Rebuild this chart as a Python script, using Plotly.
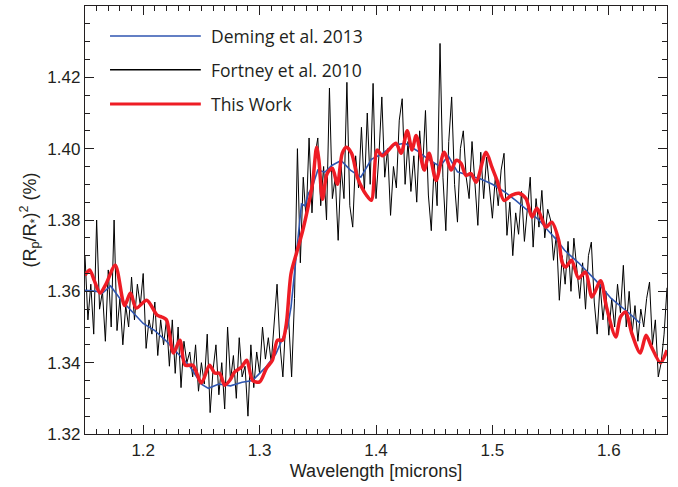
import numpy as np
import plotly.graph_objects as go

# Fortney et al. 2010 model, sampled every 0.0025 micron from 1.150 to 1.650
fortney_start, fortney_step = 1.150, 0.0025
fortney_depth = [
    1.370, 1.352, 1.362, 1.348, 1.380, 1.355, 1.360, 1.346, 1.366, 1.350,
    1.380, 1.349, 1.358, 1.345, 1.356, 1.350, 1.364, 1.352, 1.362, 1.356,
    1.365, 1.344, 1.352, 1.348, 1.357, 1.342, 1.352, 1.345, 1.352, 1.339,
    1.352, 1.337, 1.350, 1.333, 1.346, 1.340, 1.343, 1.336, 1.345, 1.332,
    1.340, 1.334, 1.348, 1.326, 1.338, 1.345, 1.331, 1.340, 1.327, 1.350,
    1.335, 1.342, 1.330, 1.347, 1.336, 1.339, 1.325, 1.345, 1.333, 1.343,
    1.337, 1.350, 1.341, 1.347, 1.340, 1.350, 1.362, 1.345, 1.336, 1.352,
    1.352, 1.336, 1.358, 1.400, 1.368, 1.392, 1.380, 1.403, 1.382, 1.398,
    1.403, 1.384, 1.395, 1.380, 1.417, 1.386, 1.392, 1.3743, 1.395, 1.386,
    1.4186, 1.384, 1.378, 1.398, 1.389, 1.406, 1.388, 1.410, 1.390, 1.4183,
    1.386, 1.398, 1.4145, 1.392, 1.400, 1.3813, 1.395, 1.389, 1.408, 1.414,
    1.390, 1.402, 1.388, 1.398, 1.385, 1.405, 1.394, 1.4107, 1.387, 1.377,
    1.396, 1.384, 1.4295, 1.392, 1.377, 1.402, 1.4145, 1.390, 1.3794, 1.400,
    1.405, 1.392, 1.386, 1.402, 1.390, 1.3785, 1.399, 1.386, 1.3976, 1.388,
    1.3805, 1.392, 1.384, 1.394, 1.3987, 1.3757, 1.385, 1.370, 1.382, 1.376,
    1.388, 1.374, 1.384, 1.392, 1.3724, 1.386, 1.378, 1.3883, 1.375, 1.383,
    1.380, 1.3687, 1.376, 1.3575, 1.370, 1.362, 1.374, 1.360, 1.3749, 1.366,
    1.358, 1.368, 1.355, 1.370, 1.3738, 1.357, 1.348, 1.362, 1.352, 1.360,
    1.3477, 1.358, 1.350, 1.362, 1.354, 1.3673, 1.350, 1.360, 1.348, 1.356,
    1.346, 1.355, 1.350, 1.358, 1.3626, 1.345, 1.352, 1.336, 1.340, 1.348,
    1.361,
]
fortney_wl = np.round(fortney_start + fortney_step * np.arange(len(fortney_depth)), 4)

# Deming et al. 2013
deming_wl = [
    1.150, 1.160, 1.165, 1.172, 1.180, 1.190, 1.200, 1.210, 1.220, 1.230,
    1.240, 1.250, 1.256, 1.265, 1.275, 1.285, 1.294, 1.300, 1.306, 1.314,
    1.320, 1.324, 1.327, 1.330, 1.333, 1.336, 1.339, 1.342, 1.345, 1.350,
    1.356, 1.362, 1.370, 1.378, 1.387, 1.396, 1.405, 1.415, 1.425, 1.435,
    1.445, 1.455, 1.462, 1.470, 1.480, 1.490, 1.500, 1.510, 1.520, 1.530,
    1.540, 1.548, 1.555, 1.562, 1.574, 1.589, 1.602, 1.617, 1.627,
]
deming_depth = [
    1.3603, 1.3600, 1.3595, 1.3615, 1.3580, 1.3545, 1.3510, 1.3490, 1.3460, 1.3425,
    1.3390, 1.3340, 1.3328, 1.3340, 1.3335, 1.3345, 1.3350, 1.3370, 1.3390, 1.3425,
    1.3470, 1.3500, 1.3556, 1.3650, 1.3760, 1.3845, 1.3840, 1.3875, 1.3890, 1.3940,
    1.3934, 1.3953, 1.3967, 1.3940, 1.3920, 1.3970, 1.3985, 1.4010, 1.4015, 1.3995,
    1.3970, 1.3950, 1.3980, 1.3935, 1.3925, 1.3915, 1.3900, 1.3880, 1.3855, 1.3827,
    1.3800, 1.3770, 1.3745, 1.3715, 1.3680, 1.3630, 1.3580, 1.3540, 1.3510,
]

# This Work
thiswork_wl = [
    1.150, 1.154, 1.158, 1.163, 1.168, 1.176, 1.184, 1.189, 1.194, 1.203,
    1.212, 1.216, 1.220, 1.226, 1.2315, 1.236, 1.2426, 1.250, 1.257, 1.2614,
    1.2657, 1.270, 1.2743, 1.2786, 1.2846, 1.289, 1.294, 1.300, 1.306, 1.311,
    1.3154, 1.3197, 1.323, 1.327, 1.3317, 1.337, 1.341, 1.3454, 1.349, 1.351,
    1.354, 1.358, 1.3625, 1.3668, 1.371, 1.3746, 1.379, 1.384, 1.388, 1.3917,
    1.396, 1.401, 1.4055, 1.417, 1.4216, 1.4268, 1.431, 1.4345, 1.4414, 1.4456,
    1.4516, 1.4585, 1.4645, 1.4688, 1.473, 1.4773, 1.4816, 1.486, 1.4945, 1.4996,
    1.504, 1.510, 1.5167, 1.5228, 1.5288, 1.534, 1.5383, 1.546, 1.551, 1.557,
    1.560, 1.563, 1.568, 1.574, 1.580, 1.5856, 1.593, 1.598, 1.606, 1.610,
    1.6145, 1.6197, 1.627, 1.632, 1.6367, 1.6444, 1.650,
]
thiswork_depth = [
    1.3645, 1.3660, 1.3630, 1.3595, 1.3620, 1.3673, 1.3560, 1.3595, 1.3553, 1.3575,
    1.3533, 1.3528, 1.3520, 1.3427, 1.3463, 1.3393, 1.3393, 1.3343, 1.3393, 1.3371,
    1.3370, 1.3337, 1.3350, 1.3374, 1.3388, 1.3407, 1.3350, 1.3346, 1.3385, 1.3407,
    1.3463, 1.3463, 1.3510, 1.3650, 1.3707, 1.3770, 1.3827, 1.3900, 1.4004, 1.3967,
    1.3858, 1.3930, 1.3945, 1.3900, 1.3987, 1.4004, 1.3987, 1.3920, 1.3890, 1.3870,
    1.3855, 1.3996, 1.3980, 1.4015, 1.3987, 1.4050, 1.3996, 1.4037, 1.3940, 1.3987,
    1.3911, 1.3990, 1.3940, 1.3967, 1.3959, 1.3925, 1.3930, 1.3906, 1.3990, 1.3948,
    1.3911, 1.3855, 1.3870, 1.3875, 1.3860, 1.3808, 1.3833, 1.3780, 1.3794, 1.3743,
    1.3680, 1.3668, 1.3687, 1.3637, 1.3654, 1.3584, 1.3630, 1.3556, 1.3472, 1.3528,
    1.3542, 1.3483, 1.3427, 1.3477, 1.3444, 1.3400, 1.3435,
]

BLUE = "#2f55b0"
BLACK = "#000000"
RED = "#ee1c25"

legend_labels = ["Deming et al. 2013", "Fortney et al. 2010", "This Work"]
legend_colors = [BLUE, BLACK, RED]
legend_widths = [1.6, 1.6, 3.2]

fig = go.Figure()
fig.add_trace(go.Scatter(x=fortney_wl, y=fortney_depth, mode="lines",
                         line=dict(color=BLACK, width=1.0), name=legend_labels[1]))
fig.add_trace(go.Scatter(x=deming_wl, y=deming_depth, mode="lines",
                         line=dict(color=BLUE, width=1.6), name=legend_labels[0]))
fig.add_trace(go.Scatter(x=thiswork_wl, y=thiswork_depth, mode="lines",
                         line=dict(color=RED, width=3.5, shape="spline", smoothing=0.8),
                         name=legend_labels[2]))

# Legend drawn inside the top-left corner with long sample lines
legend_y = [0.930, 0.851, 0.771]
for label, color, width, yy in zip(legend_labels, legend_colors, legend_widths, legend_y):
    fig.add_shape(type="line", xref="paper", yref="paper",
                  x0=0.043, x1=0.199, y0=yy, y1=yy,
                  line=dict(color=color, width=width))
    fig.add_annotation(xref="paper", yref="paper", x=0.213, y=yy, text=label,
                       showarrow=False, xanchor="left", yanchor="middle",
                       font=dict(family="Open Sans", size=17.5, color="#231f20"))

axis_common = dict(
    showline=True, linecolor="#231f20", linewidth=1.4, mirror="allticks",
    ticks="inside", tickcolor="#231f20", tickwidth=1.1,
    showgrid=False, zeroline=False,
    tickfont=dict(family="Liberation Sans", size=17, color="#231f20"),
)

fig.update_xaxes(
    range=[1.15, 1.65], tick0=1.2, dtick=0.1, ticklen=9,
    minor=dict(dtick=0.01, tick0=1.15, ticklen=5, ticks="inside",
               tickcolor="#231f20", tickwidth=1.0, showgrid=False),
    title=dict(text="Wavelength [microns]", standoff=5,
               font=dict(family="Liberation Sans", size=18, color="#231f20")),
    **axis_common,
)
fig.update_yaxes(
    range=[1.32, 1.44], tick0=1.32, dtick=0.02, tickformat=".2f", ticklen=9,
    minor=dict(dtick=0.005, ticklen=5, ticks="inside",
               tickcolor="#231f20", tickwidth=1.0, showgrid=False),
    title=dict(text="(R<sub>p</sub>/R<sub>*</sub>)<sup>2</sup> (%)", standoff=6,
               font=dict(family="Liberation Sans", size=18, color="#231f20")),
    **axis_common,
)

fig.update_layout(
    width=678, height=487,
    margin=dict(l=85, r=11, t=6, b=53),
    paper_bgcolor="white", plot_bgcolor="white",
    showlegend=False,
)

fig.write_html("out.html")
